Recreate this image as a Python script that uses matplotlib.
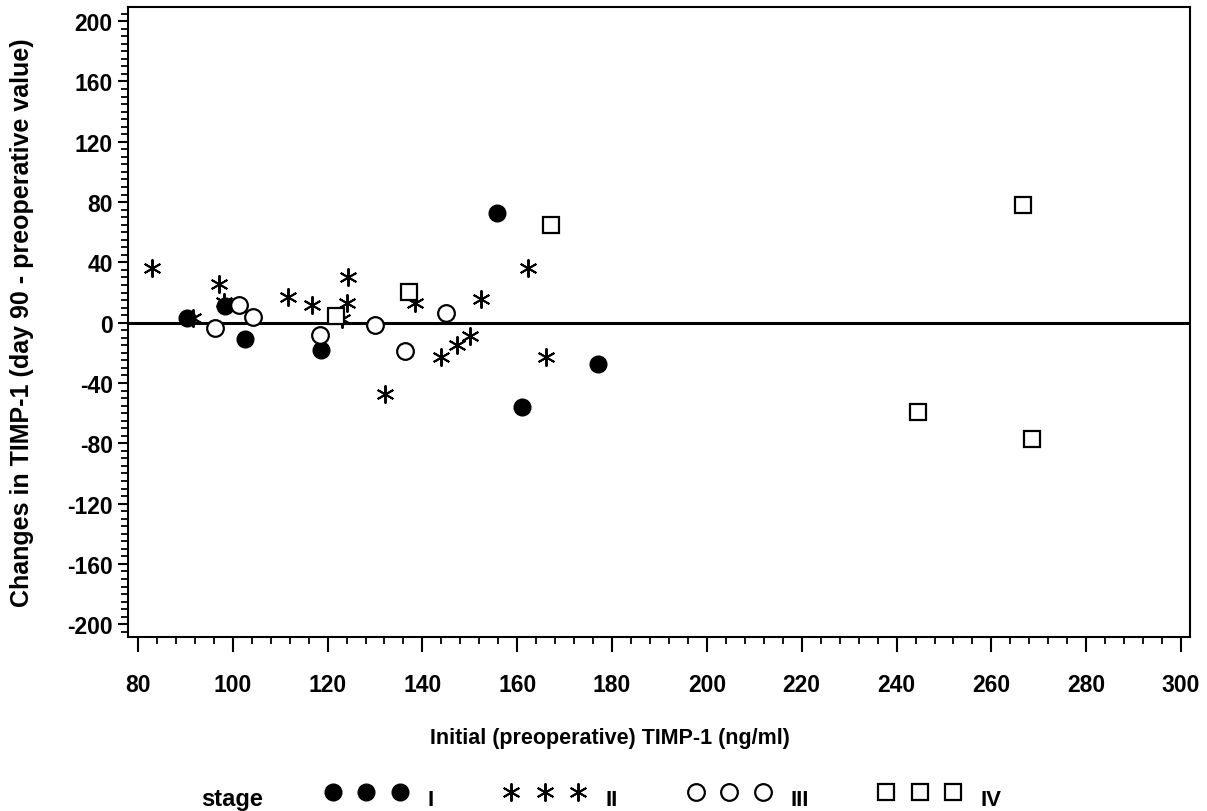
import matplotlib
matplotlib.use('Agg')
from matplotlib import pyplot as plt
from matplotlib.ticker import MultipleLocator

plt.rcParams['font.family'] = ['Liberation Sans', 'DejaVu Sans']
plt.rcParams['font.weight'] = 'bold'
plt.rcParams['axes.unicode_minus'] = False

# stage I - filled circles
x_s1 = [90.3, 98.4, 102.6, 118.6, 155.7, 161.0, 177.0]
y_s1 = [3.2, 11.0, -11.0, -18.4, 72.5, -56.0, -27.6]

# stage II - asterisks
x_s2 = [82.9, 91.6, 97.2, 98.2, 111.6, 116.8, 124.4, 124.0, 123.0,
        132.1, 138.4, 144.0, 147.2, 150.0, 152.3, 162.2, 166.0]
y_s2 = [36.5, 3.0, 25.4, 14.0, 17.2, 11.5, 30.5, 12.8, 2.7,
        -47.0, 13.3, -22.8, -15.0, -8.9, 15.9, 36.5, -22.8]

# stage III - open circles
x_s3 = [96.2, 101.4, 104.2, 118.4, 130.0, 136.3, 145.0]
y_s3 = [-3.8, 11.7, 3.7, -8.4, -1.4, -18.8, 6.2]

# stage IV - open squares
x_s4 = [121.8, 137.2, 167.1, 244.5, 266.7, 268.6]
y_s4 = [4.4, 20.6, 64.7, -59.5, 77.8, -77.4]

stage_labels = ['I', 'II', 'III', 'IV']

fig = plt.figure(figsize=(12.07, 8.12), dpi=100)
ax = fig.add_axes([0.106, 0.214, 0.880, 0.776])

ax.axhline(0, color='black', lw=2.2, zorder=1)

h1, = ax.plot(x_s1, y_s1, 'o', ms=12, mfc='black', mec='black', ls='none', zorder=3)
h2, = ax.plot(x_s2, y_s2, marker=(6, 2, 0), ms=13, mec='black', mew=1.4, ls='none', zorder=3)
h3, = ax.plot(x_s3, y_s3, 'o', ms=12, mfc='white', mec='black', mew=1.6, ls='none', zorder=3)
h4, = ax.plot(x_s4, y_s4, 's', ms=11, mfc='white', mec='black', mew=1.6, ls='none', zorder=3)

ax.set_xlim(77.9, 301.9)
ax.set_ylim(-208.6, 209.3)

ax.xaxis.set_major_locator(MultipleLocator(20))
ax.xaxis.set_minor_locator(MultipleLocator(4))
ax.yaxis.set_major_locator(MultipleLocator(40))
ax.yaxis.set_minor_locator(MultipleLocator(5))

for s in ax.spines.values():
    s.set_linewidth(1.5)

ax.tick_params(axis='x', which='major', direction='out', length=11, width=1.5, pad=15)
ax.tick_params(axis='x', which='minor', direction='out', length=5, width=1.3)
ax.tick_params(axis='y', which='major', direction='out', length=7, width=1.5, pad=4)
ax.tick_params(axis='y', which='minor', direction='out', length=5, width=1.3)
for lab in ax.get_xticklabels() + ax.get_yticklabels():
    lab.set_fontweight('bold')
    lab.set_fontsize(16.5)

ax.set_xlabel('Initial (preoperative) TIMP-1 (ng/ml)', fontsize=15.5, fontweight='bold')
ax.xaxis.set_label_coords(0.454, -0.142)
ax.set_ylabel('Changes in TIMP-1 (day 90 - preoperative value)', fontsize=18, fontweight='bold')
ax.yaxis.set_label_coords(-0.0885, 0.5)

fig.text(0.167, 0.008, 'stage', fontsize=17, fontweight='bold', ha='left', va='baseline')
leg = fig.legend([h1, h2, h3, h4], stage_labels, loc='lower left', bbox_to_anchor=(0.2537, -0.033),
                 ncol=4, numpoints=3, frameon=False, handlelength=3.62, handleheight=2.3,
                 handletextpad=0.93, columnspacing=3.2, prop={'size': 16, 'weight': 'bold'})

fig.savefig('out.png', dpi=100)
